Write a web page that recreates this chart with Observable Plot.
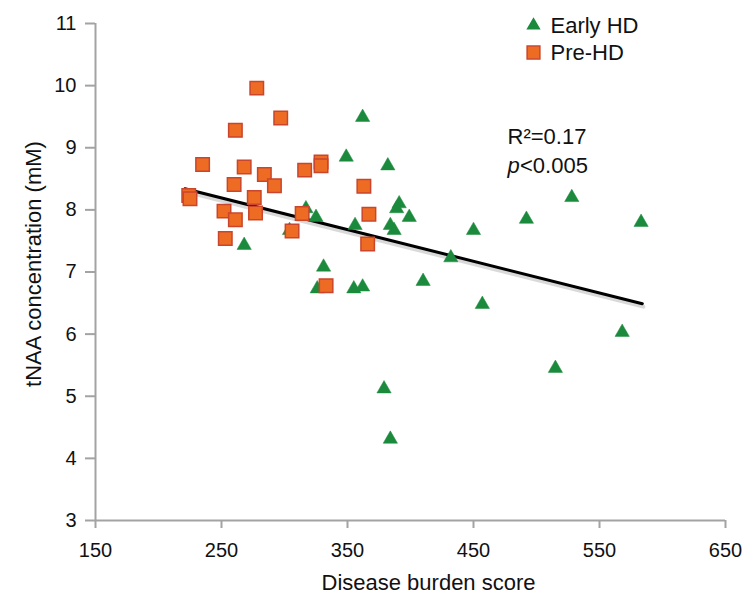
<!DOCTYPE html>
<html>
<head>
<meta charset="utf-8">
<script src="https://cdn.jsdelivr.net/npm/d3@7"></script>
<script src="https://cdn.jsdelivr.net/npm/@observablehq/plot@0.6"></script>
<style>
  html, body { margin: 0; padding: 0; background: #fff; }
  #chart { width: 742px; height: 603px; }
</style>
</head>
<body>
<div id="chart"></div>
<script>
// Early HD (triangles)
const earlyX = [362, 349, 382, 391, 389, 399, 317, 325, 356, 384, 387, 304, 450, 492, 528, 583, 432, 331, 410, 326, 355, 362, 457, 568, 515, 379, 384, 268];
const earlyY = [9.49, 8.85, 8.71, 8.10, 8.02, 7.88, 8.02, 7.88, 7.75, 7.75, 7.67, 7.67, 7.67, 7.85, 8.20, 7.80, 7.23, 7.08, 6.85, 6.73, 6.73, 6.76, 6.48, 6.03, 5.45, 5.12, 4.31, 7.43];
// Pre-HD (squares)
const preX = [278, 297, 261, 235, 268, 284, 260, 292, 316, 329, 329, 224, 225, 276, 252, 261, 277, 314, 306, 253, 363, 367, 366, 333];
const preY = [9.96, 9.48, 9.28, 8.73, 8.69, 8.57, 8.41, 8.39, 8.64, 8.77, 8.71, 8.23, 8.18, 8.20, 7.98, 7.84, 7.95, 7.94, 7.66, 7.54, 8.38, 7.93, 7.45, 6.78];
// Regression line end points
const fitX = [221, 584];
const fitY = [8.34, 6.49];
// Axes
const xTicks = [150, 250, 350, 450, 550, 650];
const yTicks = [3, 4, 5, 6, 7, 8, 9, 10, 11];
const seriesNames = ["Early HD", "Pre-HD"];
const stats = { r2: "R\u00B2=0.17", p: "p", pRest: "<0.005" };

const early = earlyX.map((x, i) => ({x, y: earlyY[i]}));
const pre = preX.map((x, i) => ({x, y: preY[i]}));
const fit = fitX.map((x, i) => ({x, y: fitY[i]}));

const green = "#1b8a3c";
const orange = "#ee6b24";
const orangeStroke = "#c9462c";
const axisGray = "#a3a3a3";
const font = "'Liberation Sans', Arial, Helvetica, sans-serif";

const chart = Plot.plot({
  width: 742,
  height: 603,
  marginLeft: 95,
  marginRight: 17,
  marginTop: 23,
  marginBottom: 83,
  x: {domain: [150, 650]},
  y: {domain: [3, 11]},
  style: {fontFamily: font, fontSize: "20px", background: "#fff", color: "#111", overflow: "visible"},
  marks: [
    Plot.ruleY([3], {stroke: axisGray, strokeWidth: 2}),
    Plot.ruleX([150], {stroke: axisGray, strokeWidth: 2}),
    Plot.axisX({ticks: xTicks, tickSize: 8, tickPadding: 14, stroke: axisGray, strokeWidth: 2, fill: "#111", label: null, fontSize: 20}),
    Plot.axisY({ticks: yTicks, tickSize: 10, tickPadding: 9, stroke: axisGray, strokeWidth: 2, fill: "#111", label: null, fontSize: 20}),
    // regression line with soft shadow
    Plot.line(fit, {x: "x", y: "y", stroke: "#000", strokeOpacity: 0.15, strokeWidth: 4, dx: 1, dy: 3}),
    Plot.line(fit, {x: "x", y: "y", stroke: "#000", strokeWidth: 3}),
    Plot.dot(early, {x: "x", y: "y", symbol: "triangle", r: 5.3, fill: green, stroke: green, strokeWidth: 0.5, ariaLabel: "early"}),
    Plot.dot(pre, {x: "x", y: "y", symbol: "square", r: 7.6, fill: orange, stroke: orangeStroke, strokeWidth: 1.5, ariaLabel: "pre"}),
    // legend
    Plot.dot([seriesNames[0]], {frameAnchor: "top-left", dx: 438, dy: 2, symbol: "triangle", r: 5.3, fill: green, ariaLabel: "early"}),
    Plot.text([seriesNames[0]], {frameAnchor: "top-left", dx: 455, dy: 2, textAnchor: "start", lineAnchor: "middle", fontSize: 22, fill: "#111"}),
    Plot.dot([seriesNames[1]], {frameAnchor: "top-left", dx: 438, dy: 29, symbol: "square", r: 7.2, fill: orange, stroke: orangeStroke, strokeWidth: 1.5, ariaLabel: "pre"}),
    Plot.text([seriesNames[1]], {frameAnchor: "top-left", dx: 455, dy: 29, textAnchor: "start", lineAnchor: "middle", fontSize: 22, fill: "#111"}),
    // stats annotation
    Plot.text([stats.r2], {frameAnchor: "top-left", dx: 412, dy: 113, textAnchor: "start", lineAnchor: "middle", fontSize: 22, fill: "#111"}),
    Plot.text([stats.p], {frameAnchor: "top-left", dx: 412, dy: 142, textAnchor: "start", lineAnchor: "middle", fontSize: 22, fontStyle: "italic", fill: "#111"}),
    Plot.text([stats.pRest], {frameAnchor: "top-left", dx: 424.5, dy: 142, textAnchor: "start", lineAnchor: "middle", fontSize: 22, fill: "#111"}),
    // axis titles
    Plot.text(["Disease burden score"], {frameAnchor: "bottom", dx: 18, dy: 62, textAnchor: "middle", lineAnchor: "middle", fontSize: 22, fill: "#111"}),
    Plot.text(["tNAA concentration (mM)"], {frameAnchor: "left", dx: -62, dy: -8, rotate: -90, textAnchor: "middle", lineAnchor: "middle", fontSize: 22, fill: "#111"})
  ]
});

// soft drop shadow like the reference markers
const svg = d3.select(chart);
const defs = svg.insert("defs", ":first-child");
const f = defs.append("filter").attr("id", "shadow").attr("x", "-50%").attr("y", "-50%").attr("width", "200%").attr("height", "200%");
f.append("feDropShadow").attr("dx", 1).attr("dy", 3).attr("stdDeviation", 1.4).attr("flood-color", "#000").attr("flood-opacity", 0.3);
svg.selectAll("g[aria-label='early'], g[aria-label='pre']").attr("filter", "url(#shadow)");

document.getElementById("chart").appendChild(chart);
</script>
</body>
</html>
